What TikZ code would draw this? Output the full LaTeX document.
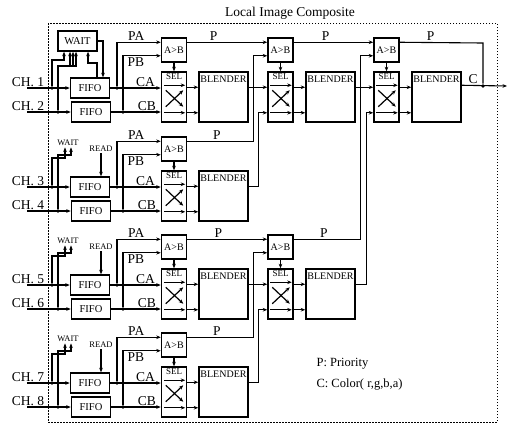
\documentclass[tikz,border=0pt]{standalone}
\usepackage{fontspec}
\setmainfont{Liberation Serif}
\usetikzlibrary{arrows.meta}
\newcommand\selin[1]{%
  \node[seltxt] (#1t) at ([yshift=-1pt]#1.north) {SEL};
  \draw[->,line width=.9pt] ([shift={(3pt,-14pt)}]#1.north west) -- ([shift={(-2pt,-14pt)}]#1.north east);
  \draw[->,line width=.9pt] ([shift={(3pt,10pt)}]#1.south west) -- ([shift={(-2pt,10pt)}]#1.south east);
  \draw[->,line width=1.2pt] ([shift={(5pt,-19pt)}]#1.north west) -- ([shift={(-4pt,16pt)}]#1.south east);
  \draw[->,line width=1.2pt] ([shift={(5pt,16pt)}]#1.south west) -- ([shift={(-4pt,-19pt)}]#1.north east);
}

\begin{document}
\begin{tikzpicture}[x=1pt,y=-1pt,>={Stealth[length=4.5pt,width=3.6pt]},line width=1.1pt,
  every node/.style={align=center,inner sep=1pt},
  blk/.style={draw,line width=1.5pt,inner sep=0pt},
  cmp/.style={blk,minimum width=25pt,minimum height=24pt,font=\fontsize{10}{10}\selectfont},
  selbox/.style={blk,minimum width=25pt,minimum height=50pt},
  blend/.style={blk,minimum width=49pt,minimum height=50pt},
  bname/.style={anchor=north,inner sep=0pt,font=\fontsize{10}{10}\selectfont},
  seltxt/.style={anchor=north,inner sep=.5pt,font=\fontsize{9}{9}\selectfont},
  fifo/.style={blk,minimum width=39pt,minimum height=20pt,font=\fontsize{10.5}{10}\selectfont},
  lbl/.style={font=\fontsize{13.5}{13.5}\selectfont},
  sig/.style={font=\fontsize{8.5}{8.5}\selectfont},
  jn/.style={circle,fill,inner sep=0pt,minimum size=3.6pt}]
\useasboundingbox (0,0) rectangle (516,424);
\node[font=\fontsize{13.5}{13.5}\selectfont] (title) at (290,13) {Local Image Composite};
\draw[line width=1pt,dash pattern=on 1.5pt off 1.5pt] (48,23) rectangle (497,422);

\foreach \g/\yo in {0/38,1/137,2/235,3/333}{
  \pgfmathtruncatemacro\na{2*\g+1}
  \pgfmathtruncatemacro\nb{2*\g+2}
  \node[cmp] (ab\g) at (174,\yo+12) {A>B};
  \node[selbox] (sel\g) at (174,\yo+59) {};
  \node[blend] (bl\g) at (223.5,\yo+59) {};
  \node[bname] (bt\g) at ([yshift=-4pt]bl\g.north) {BLENDER};
  \selin{sel\g}
  \node[fifo] (fa\g) at (90,\yo+50) {FIFO};
  \node[fifo] (fb\g) at (91,\yo+74) {FIFO};
  \coordinate (ca\g) at (27,\yo+50);
  \coordinate (cb\g) at (27,\yo+74);
  \node[lbl,above,xshift=1pt] (cha\g) at (ca\g) {CH. \na};
  \node[lbl,above,xshift=1pt] (chb\g) at (cb\g) {CH. \nb};
  \draw[->] (ca\g) -- (fa\g);
  \draw[->] (cb\g) -- (fb\g);
  \node[jn] (da\g) at (52,\yo+50) {};
  \node[jn] (db\g) at (58,\yo+74) {};
  \node[jn] (pa\g) at (117,\yo+50) {};
  \node[jn] (pb\g) at (123,\yo+74) {};
  \draw[->] (fa\g) -- node[lbl,above,pos=.7]{CA} (sel\g.west |- fa\g);
  \draw[->] (fb\g) -- node[lbl,above,pos=.72]{CB} (sel\g.west |- fb\g);
  \draw[->] (pa\g) |- node[lbl,above,pos=.72]{PA} ([yshift=-5pt]ab\g.north west);
  \draw[->] (pb\g) |- node[lbl,below,pos=.67]{PB} ([yshift=7pt]ab\g.south west);
  \draw[->] (ab\g) -- (sel\g);
  \draw[->] ([yshift=-16pt]sel\g.north east) -- ([yshift=-16pt]bl\g.north west);
  \draw[->] ([yshift=10pt]sel\g.south east) -- ([yshift=10pt]bl\g.south west);
  \ifnum\g>0
    \node[sig] (wt\g) at (68,\yo+6) {WAIT};
    \draw[->] (da\g) |- (65,\yo+21) -- (wt\g.south -| 65,0);
    \draw[->] (db\g) |- (71,\yo+18) -- (wt\g.south -| 71,0);
    \node[sig] (rd\g) at (101,\yo+12) {READ};
    \draw[->] (rd\g) -- (rd\g |- fa\g.north);
  \fi
}

\node[fifo,font=\fontsize{10.5}{10}\selectfont] (wait) at (77.5,41) {WAIT};
\draw[->] (da0) |- (64,60) -- (wait.south -| 64,0);
\draw[->] (db0) |- (76,66) -- (wait.south -| 76,0);
\draw[->] (70,66) -- (wait.south -| 70,0);
\draw[->] (73,66) -- (wait.south -| 73,0);
\draw[->] (wait.east) -| (fa0.north -| 103,0);
\draw[->] (fa0.north -| 97,0) |- (88,63) -- (wait.south -| 88,0);

\foreach \s/\yo in {0/38,1/235}{
  \node[cmp] (abb\s) at (280.5,\yo+12) {A>B};
  \node[selbox] (selb\s) at (280.5,\yo+59) {};
  \node[blend] (blb\s) at (330.5,\yo+59) {};
  \node[bname] (btb\s) at ([yshift=-4pt]blb\s.north) {BLENDER};
  \selin{selb\s}
  \draw[->] (abb\s) -- (selb\s);
  \draw[->] ([yshift=-16pt]selb\s.north east) -- ([yshift=-16pt]blb\s.north west);
  \draw[->] ([yshift=10pt]selb\s.south east) -- ([yshift=10pt]blb\s.south west);
}
\node[cmp] (abc) at (386.5,50) {A>B};
\node[selbox] (selc) at (386.5,97) {};
\node[blend] (blc) at (436.5,97) {};
\node[bname] (btc) at ([yshift=-4pt]blc.north) {BLENDER};
\selin{selc}
\draw[->] (abc) -- (selc);
\draw[->] ([yshift=-16pt]selc.north east) -- ([yshift=-16pt]blc.north west);
\draw[->] ([yshift=10pt]selc.south east) -- ([yshift=10pt]blc.south west);

\draw[->] ([yshift=-5pt]ab0.north east) -- node[lbl,above,pos=.33]{P} ([yshift=-5pt]abb0.north west);
\draw[->] ([yshift=-5pt]ab1.north east) -- node[lbl,above,pos=.45]{P} ++(66,0) |- ([yshift=7pt]abb0.south west);
\draw[->] ([yshift=-16pt]bl0.north east) -- ([yshift=-16pt]selb0.north west);
\draw[->] ([yshift=-16pt]bl1.north east) -- ++(10,0) |- ([yshift=10pt]selb0.south west);
\draw[->] ([yshift=-5pt]ab2.north east) -- node[lbl,above,pos=.39]{P} ([yshift=-5pt]abb1.north west);
\draw[->] ([yshift=-5pt]ab3.north east) -- node[lbl,above,pos=.45]{P} ++(66,0) |- ([yshift=7pt]abb1.south west);
\draw[->] ([yshift=-16pt]bl2.north east) -- ([yshift=-16pt]selb1.north west);
\draw[->] ([yshift=-16pt]bl3.north east) -- ++(10,0) |- ([yshift=10pt]selb1.south west);

\draw[->] ([yshift=-5pt]abb0.north east) -- node[lbl,above,pos=.4]{P} ([yshift=-5pt]abc.north west);
\draw[->] ([yshift=-5pt]abb1.north east) -- node[lbl,above,pos=.45]{P} ++(67,0) |- ([yshift=7pt]abc.south west);
\draw[->] ([yshift=-16pt]blb0.north east) -- ([yshift=-16pt]selc.north west);
\draw[->] ([yshift=-16pt]blb1.north east) -- ++(11,0) |- ([yshift=10pt]selc.south west);

\node[jn] (cj) at (483,86) {};
\coordinate (pc) at (483,43);
\coordinate (cout) at (507,86);
\draw[->] ([yshift=-14pt]blc.north east) -- node[lbl,above,pos=.25]{C} (cout);
\draw ([yshift=-5pt]abc.north east) -- node[lbl,above,pos=.37]{P} (pc) -- (cj);

\node[anchor=west,font=\fontsize{12.5}{12.5}\selectfont] (lgp) at (315,364) {P: Priority};
\node[anchor=west,font=\fontsize{12.5}{12.5}\selectfont] (lgc) at (315,385) {C: Color( r,g,b,a)};
\end{tikzpicture}
\end{document}
